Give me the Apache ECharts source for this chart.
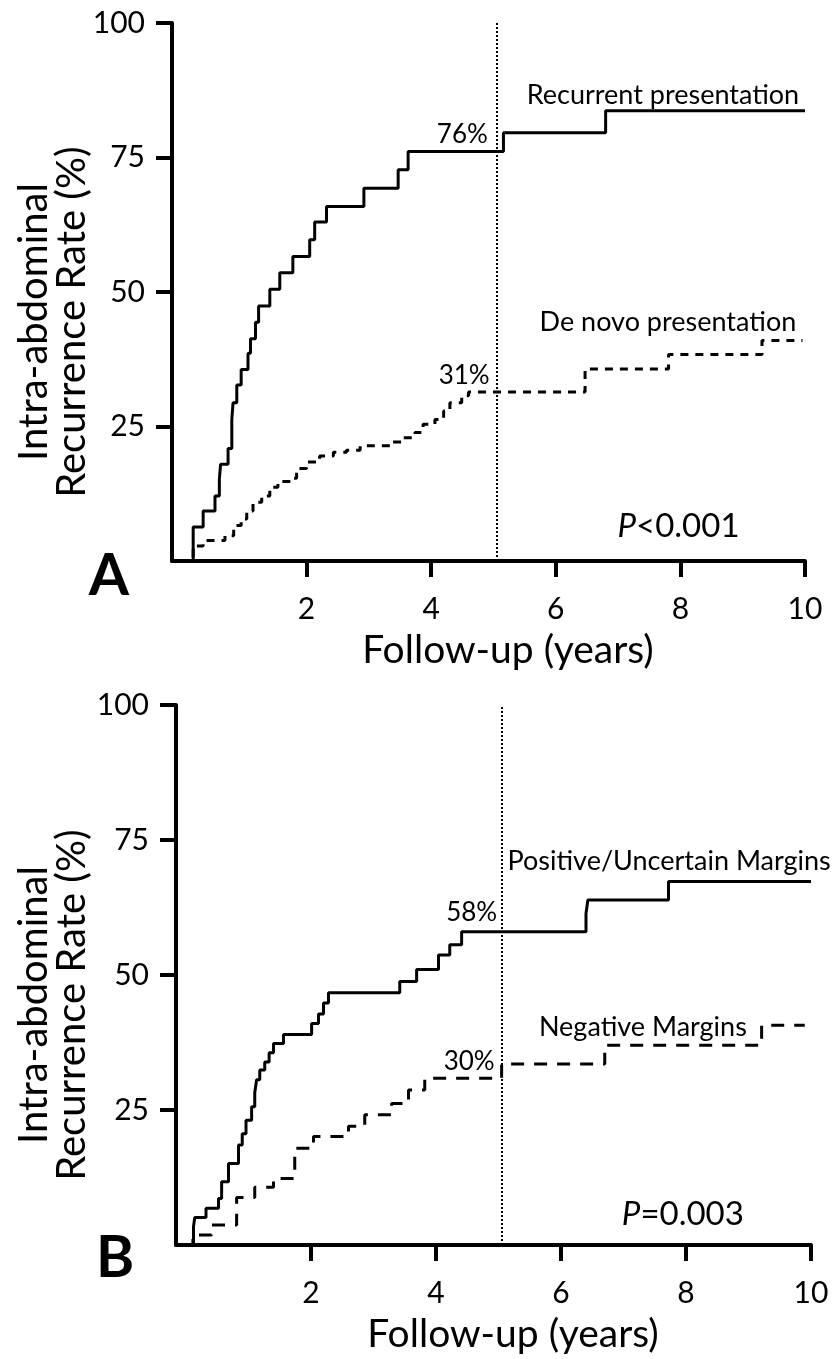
<!DOCTYPE html>
<html>
<head>
<meta charset="utf-8">
<script src="https://cdn.jsdelivr.net/npm/echarts@6/dist/echarts.min.js"></script>
<style>
  html, body { margin: 0; padding: 0; background: #fff; }
  #chart { width: 835px; height: 1359px; }
</style>
</head>
<body>
<div id="chart"></div>
<script>
// tick labels
var xTicks = [2, 4, 6, 8, 10];
var yTicks = [25, 50, 75, 100];
var landmarkYear = 5.05;

// panel A: presentation type  [years, %]
var recurrentA = [[0, 0], [0.18, 6.3], [0.34, 9.3], [0.53, 12.1], [0.6, 15.2], [0.62, 18], [0.74, 20.9],
  [0.8, 26.3], [0.82, 29.4], [0.88, 32.7], [0.95, 35.6], [1.06, 38.6], [1.1, 41.3], [1.18, 44.4],
  [1.23, 47.4], [1.41, 50.5], [1.57, 53.6], [1.78, 56.6], [2.05, 59.7], [2.13, 63], [2.32, 65.9],
  [2.92, 69.3], [3.47, 72.7], [3.63, 76.1], [5.16, 79.6], [6.8, 83.7], [10, 83.7]];
var deNovoA = [[0, 0], [0.18, 2.8], [0.34, 3.8], [0.69, 4.7], [0.83, 6.6], [0.95, 7.8], [1.04, 9.3],
  [1.14, 10.9], [1.28, 12.1], [1.41, 13.7], [1.54, 14.8], [1.77, 15.4], [1.84, 17.2], [2.0, 18.4],
  [2.21, 19.5], [2.43, 20.2], [2.64, 20.6], [2.86, 21.4], [3.34, 22.1], [3.55, 22.9], [3.74, 23.9],
  [3.87, 25.4], [4.06, 26.3], [4.2, 27.9], [4.3, 29.4], [4.49, 30.7], [4.6, 31.4], [6.47, 35.7],
  [7.81, 38.4], [9.31, 41], [9.96, 41]];

// panel B: margin status  [years, %]
var positiveB = [[0, 0], [0.12, 3.4], [0.14, 5.1], [0.32, 6.8], [0.52, 8.6], [0.57, 11.7], [0.68, 15.1],
  [0.84, 18.5], [0.9, 20.6], [0.96, 23.1], [1.05, 25.6], [1.1, 28.2], [1.13, 30.6], [1.18, 32.4],
  [1.26, 33.9], [1.33, 35.6], [1.4, 37.3], [1.56, 39], [2.01, 41], [2.12, 42.8], [2.2, 44.8],
  [2.28, 46.7], [3.42, 48.8], [3.69, 51], [4.04, 53.7], [4.22, 55.6], [4.41, 58], [6.4, 61.4],
  [6.43, 63.9], [7.72, 67.3], [10, 67.3]];
var negativeB = [[0, 0], [0.11, 1.85], [0.41, 3.7], [0.81, 8.8], [1.1, 10.7], [1.4, 12.3], [1.74, 17.9],
  [2.04, 20.1], [2.6, 22], [2.86, 24.1], [3.29, 26.2], [3.56, 28.7], [3.82, 30.9], [5.05, 33.5],
  [6.7, 37], [9.21, 40.7], [9.9, 40.7]];

var FONT = 'Lato, "Open Sans", sans-serif';

function xAxisFor(i) {
  return {
    gridIndex: i, type: 'value', min: -0.16, max: 10,
    axisLine: { show: true, onZero: false, lineStyle: { color: '#000', width: 4 } },
    axisTick: { show: true, length: 16, customValues: xTicks, lineStyle: { color: '#000', width: 4 } },
    axisLabel: { customValues: xTicks, color: '#000', fontSize: 30, fontFamily: FONT, margin: 33 },
    splitLine: { show: false },
    name: 'Follow-up (years)', nameLocation: 'middle', nameGap: 70,
    nameTextStyle: { color: '#000', fontSize: 39, fontFamily: FONT, padding: [0, 0, 0, 39] }
  };
}
function yAxisFor(i) {
  return {
    gridIndex: i, type: 'value', min: 0, max: 100,
    axisLine: { show: true, onZero: false, lineStyle: { color: '#000', width: 4 } },
    axisTick: { show: true, length: 16, customValues: yTicks, lineStyle: { color: '#000', width: 4 } },
    axisLabel: { customValues: yTicks, color: '#000', fontSize: 30, fontFamily: FONT, margin: 27 },
    splitLine: { show: false }
  };
}
function note(x, y, text, size, rich) {
  return {
    coord: [x, y], symbol: 'circle', symbolSize: 1, itemStyle: { color: 'rgba(0,0,0,0)' },
    label: { show: true, position: 'inside', formatter: text, color: '#000', fontSize: size,
      fontFamily: FONT, rich: rich || {} }
  };
}
function curve(i, data, dash, notes, withLandmark) {
  var s = {
    type: 'line', xAxisIndex: i, yAxisIndex: i, step: 'end', data: data,
    symbol: 'none', silent: true,
    lineStyle: { color: '#000', width: 3, type: dash },
    markPoint: { silent: true, data: notes }
  };
  if (withLandmark) {
    s.markLine = {
      silent: true, symbol: 'none', label: { show: false },
      lineStyle: { color: '#000', width: 2, type: [2, 2] },
      data: [{ xAxis: landmarkYear }]
    };
  }
  return s;
}
var pRich = { i: { fontStyle: 'italic', fontSize: 33, fontFamily: FONT, color: '#000' },
  n: { fontSize: 33, fontFamily: FONT, color: '#000' } };

var chart = echarts.init(document.getElementById('chart'));
chart.setOption({
  animation: false,
  backgroundColor: '#fff',
  grid: [
    { left: 172, top: 23, width: 633, height: 538 },
    { left: 176, top: 705, width: 635, height: 540 }
  ],
  xAxis: [xAxisFor(0), xAxisFor(1)],
  yAxis: [yAxisFor(0), yAxisFor(1)],
  graphic: [
    { type: 'text', x: 53, y: 322, rotation: Math.PI / 2,
      style: { text: 'Intra-abdominal\nRecurrence Rate (%)', font: '40px ' + FONT, lineHeight: 38,
        fill: '#000', align: 'center', verticalAlign: 'middle' } },
    { type: 'text', x: 53, y: 1005, rotation: Math.PI / 2,
      style: { text: 'Intra-abdominal\nRecurrence Rate (%)', font: '40px ' + FONT, lineHeight: 38,
        fill: '#000', align: 'center', verticalAlign: 'middle' } },
    { type: 'text', x: 109, y: 576,
      style: { text: 'A', font: 'bold 58px ' + FONT, fill: '#000', align: 'center', verticalAlign: 'middle' } },
    { type: 'text', x: 115, y: 1258,
      style: { text: 'B', font: 'bold 58px ' + FONT, fill: '#000', align: 'center', verticalAlign: 'middle' } }
  ],
  series: [
    curve(0, recurrentA, 'solid', [
      note(4.5, 79.2, '76%', 26),
      note(7.72, 86.6, 'Recurrent presentation', 27),
      note(7.97, 6.5, '{i|P}{n|<0.001}', 33, pRich)
    ], true),
    curve(0, deNovoA, [8, 7], [
      note(4.53, 34.4, '31%', 26),
      note(7.8, 44.3, 'De novo presentation', 27)
    ], false),
    curve(1, positiveB, 'solid', [
      note(4.57, 61.5, '58%', 26),
      note(7.73, 71.0, 'Positive/Uncertain Margins', 27),
      note(7.95, 5.6, '{i|P}{n|=0.003}', 33, pRich)
    ], true),
    curve(1, negativeB, [13, 10], [
      note(4.53, 33.9, '30%', 26),
      note(7.31, 40.4, 'Negative Margins', 27)
    ], false)
  ]
});
</script>
</body>
</html>
